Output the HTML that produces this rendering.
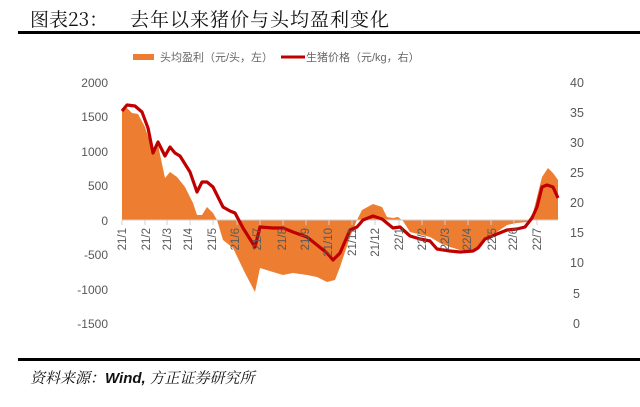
<!DOCTYPE html>
<html><head><meta charset="utf-8"><style>
body{margin:0;background:#fff;}
svg{display:block;}
</style></head><body>
<svg width="640" height="407" xmlns="http://www.w3.org/2000/svg" font-family="Liberation Sans, Noto Sans CJK SC, sans-serif">
<text x="30" y="26" font-size="19" fill="#111" font-family="Noto Serif CJK SC, Noto Sans CJK SC, serif">图表23：</text>
<text x="130" y="26" font-size="19" fill="#111" font-family="Noto Serif CJK SC, Noto Sans CJK SC, serif" letter-spacing="1">去年以来猪价与头均盈利变化</text>
<rect x="18" y="31" width="622" height="3" fill="#000"/>
<rect x="133" y="54" width="21" height="6" fill="#ED7D31"/>
<text x="160" y="61" font-size="11" fill="#666">头均盈利（元/头，左）</text>
<rect x="281" y="55.5" width="24" height="3" fill="#C00000"/>
<text x="306" y="61" font-size="11" fill="#666">生猪价格（元/kg，右）</text>
<g font-size="12" fill="#595959" text-anchor="end">
<text x="108" y="87">2000</text><text x="108" y="121">1500</text><text x="108" y="156">1000</text><text x="108" y="190">500</text><text x="108" y="225">0</text><text x="108" y="259">-500</text><text x="108" y="294">-1000</text><text x="108" y="328">-1500</text>
</g>
<g font-size="12.5" fill="#595959" text-anchor="start">
<text x="570" y="87">40</text><text x="570" y="117">35</text><text x="570" y="147">30</text><text x="570" y="177">25</text><text x="570" y="207">20</text><text x="570" y="237">15</text><text x="570" y="267">10</text><text x="573" y="298">5</text><text x="573" y="328">0</text>
</g>
<path fill="#ED7D31" d="M122,220 L122,110 127,108 132,113 138,114 145,127 153,153 158,145 165,178 170,172 177,177 185,187 193,203 197,215 202,215 207,207 213,213 217,220 223,240 233,248 245,273 255,292 260,268 273,272 283,275 293,273 307,275 317,277 327,282 335,280 340,267 350,237 357,220 362,210 373,204 382,207 387,217 393,218 398,217 403,221 410,232 418,234 430,237 440,243 450,247 460,250 470,250 477,248 487,237 497,232 507,225 517,223 527,222 533,213 542,177 548,168 553,173 558,180 558,220 Z"/>
<line x1="122" y1="220" x2="558" y2="220" stroke="#d0d0d0" stroke-width="1"/>
<g stroke="#d0d0d0" stroke-width="1">
<line x1="122" y1="220" x2="122" y2="225"/><line x1="145" y1="220" x2="145" y2="225"/><line x1="167" y1="220" x2="167" y2="225"/><line x1="190" y1="220" x2="190" y2="225"/><line x1="213" y1="220" x2="213" y2="225"/><line x1="237" y1="220" x2="237" y2="225"/><line x1="260" y1="220" x2="260" y2="225"/><line x1="283" y1="220" x2="283" y2="225"/><line x1="306" y1="220" x2="306" y2="225"/><line x1="329" y1="220" x2="329" y2="225"/><line x1="352" y1="220" x2="352" y2="225"/><line x1="375" y1="220" x2="375" y2="225"/><line x1="399" y1="220" x2="399" y2="225"/><line x1="422" y1="220" x2="422" y2="225"/><line x1="445" y1="220" x2="445" y2="225"/><line x1="468" y1="220" x2="468" y2="225"/><line x1="491" y1="220" x2="491" y2="225"/><line x1="514" y1="220" x2="514" y2="225"/><line x1="537" y1="220" x2="537" y2="225"/>
</g>
<polyline fill="none" stroke="#C00000" stroke-width="3.2" stroke-linejoin="round" points="122,111 127,105 135,106 142,112 148,128 153,153 158,142 165,156 170,147 175,153 180,156 190,172 197,192 202,182 207,182 213,187 223,207 230,211 235,213 243,228 255,247 260,227 273,228 283,228 293,232 307,237 317,245 327,253 333,260 340,253 350,230 357,227 363,220 373,216 382,219 393,228 400,227 410,236 420,239 430,241 437,249 450,251 460,252 473,251 478,248 485,239 497,234 507,230 517,229 525,227 532,218 537,207 542,187 547,185 553,187 558,198"/>
<g font-size="11.5" fill="#595959" text-anchor="end">
<text transform="translate(126,228) rotate(-90)">21/1</text>
<text transform="translate(150,228) rotate(-90)">21/2</text>
<text transform="translate(171,228) rotate(-90)">21/3</text>
<text transform="translate(192,228) rotate(-90)">21/4</text>
<text transform="translate(216,228) rotate(-90)">21/5</text>
<text transform="translate(239,228) rotate(-90)">21/6</text>
<text transform="translate(261,228) rotate(-90)">21/7</text>
<text transform="translate(286,228) rotate(-90)">21/8</text>
<text transform="translate(309,228) rotate(-90)">21/9</text>
<text transform="translate(332,228) rotate(-90)">21/10</text>
<text transform="translate(356,228) rotate(-90)">21/11</text>
<text transform="translate(379,228) rotate(-90)">21/12</text>
<text transform="translate(403,228) rotate(-90)">22/1</text>
<text transform="translate(426,228) rotate(-90)">22/2</text>
<text transform="translate(449,228) rotate(-90)">22/3</text>
<text transform="translate(471,228) rotate(-90)">22/4</text>
<text transform="translate(496,228) rotate(-90)">22/5</text>
<text transform="translate(517,228) rotate(-90)">22/6</text>
<text transform="translate(541,228) rotate(-90)">22/7</text>
</g>
<rect x="18" y="358" width="622" height="3" fill="#000"/>
<text x="30" y="383" font-size="15" font-style="italic" fill="#111" font-family="Noto Serif CJK SC, Noto Sans CJK SC, serif">资料来源：<tspan font-family="Liberation Sans, sans-serif" font-weight="bold">Wind,</tspan> 方正证券研究所</text>
</svg>
</body></html>
